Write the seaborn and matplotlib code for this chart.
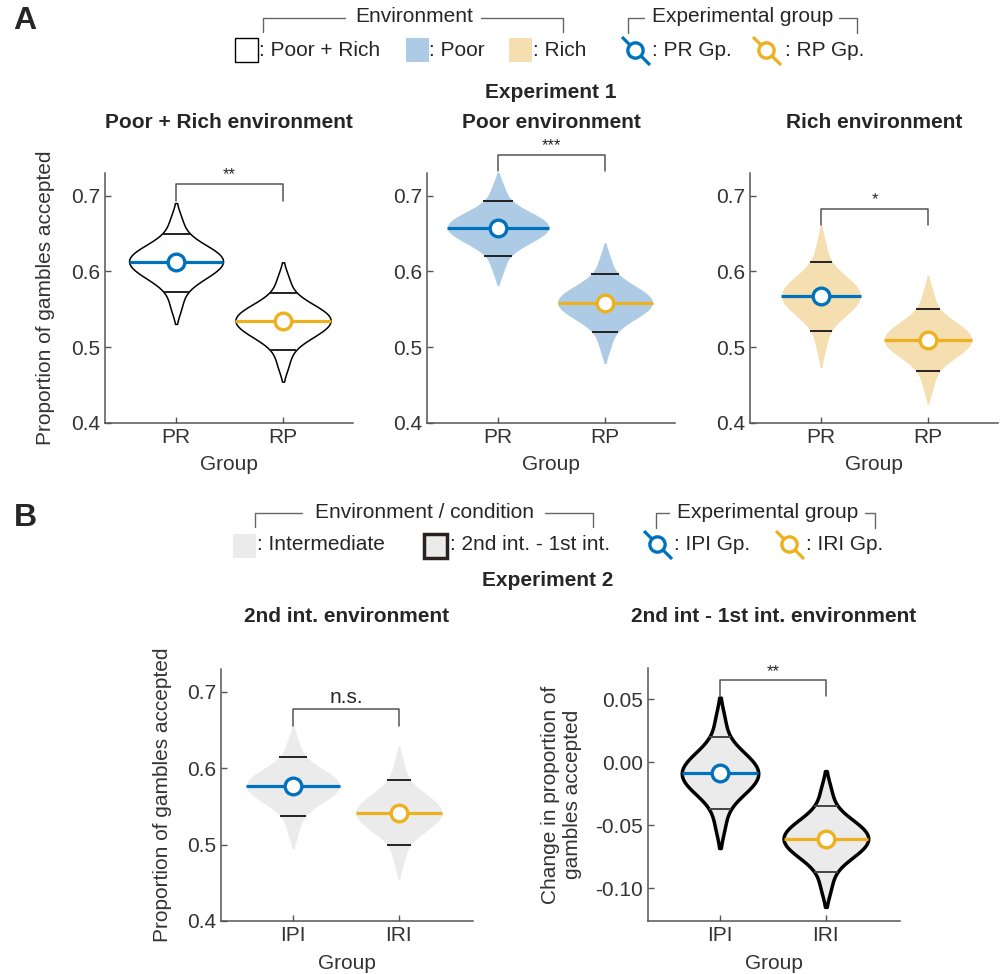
import numpy as np
import pandas as pd
import seaborn as sns
import matplotlib.pyplot as plt
from matplotlib.patches import Rectangle

# =========================================================
# Values (posterior mean + 95% interval)
# =========================================================

exp1_groups = ['PR', 'RP']
exp2_groups = ['IPI', 'IRI']

# Experiment 1, Poor + Rich environment
mix_mean = [0.613, 0.535]
mix_lo = [0.573, 0.496]
mix_hi = [0.650, 0.572]

# Experiment 1, Poor environment
poor_mean = [0.658, 0.559]
poor_lo = [0.621, 0.520]
poor_hi = [0.693, 0.597]

# Experiment 1, Rich environment
rich_mean = [0.568, 0.510]
rich_lo = [0.522, 0.469]
rich_hi = [0.613, 0.551]

# Experiment 2, 2nd intermediate environment
int2_mean = [0.577, 0.542]
int2_lo = [0.537, 0.500]
int2_hi = [0.615, 0.584]

# Experiment 2, 2nd int - 1st int difference
diff_mean = [-0.0087, -0.0606]
diff_lo = [-0.0373, -0.0868]
diff_hi = [0.0204, -0.0347]

sig_labels = ['**', '***', '*', 'n.s.', '**']

prop_ticks = [0.4, 0.5, 0.6, 0.7]
diff_ticks = [-0.10, -0.05, 0.00, 0.05]
diff_ticklabels = ['-0.10', '-0.05', '0.00', '0.05']

# standardised half-shape of the posterior (one side, heavy tailed)
z_shape = [0.03, 0.09, 0.16, 0.22, 0.29, 0.35, 0.42, 0.49, 0.56, 0.64, 0.71, 0.80,
           0.89, 0.98, 1.09, 1.21, 1.36, 1.53, 1.78, 2.24, 2.7, 3.2]

BLUE = '#0072BD'
YELLOW = '#EDB120'
group_colors = [BLUE, YELLOW]
POOR_FILL = '#aecbe5'
RICH_FILL = '#f5dfb0'
GREY_FILL = '#ebebeb'

# =========================================================
# Style
# =========================================================

sns.set_style('ticks')
plt.rcParams['font.family'] = ['Liberation Sans', 'DejaVu Sans']
plt.rcParams['font.size'] = 15

W, H = 1005, 974
fig = plt.figure(figsize=(W / 100, H / 100), dpi=100)


def px_axes(left, top, right, bottom):
    return fig.add_axes([left / W, 1 - bottom / H, (right - left) / W, (bottom - top) / H])


def make_samples(groups, mean, lo, hi):
    rows = []
    for g, m, l, h in zip(groups, mean, lo, hi):
        for z in z_shape:
            rows.append((g, m + z * (h - m) / 1.96))
            rows.append((g, m - z * (m - l) / 1.96))
    return pd.DataFrame(rows, columns=['group', 'value'])


def draw_panel(ax, groups, mean, lo, hi, fill, width, edge='black', edge_lw=0,
               hdi_color='#222222'):
    df = make_samples(groups, mean, lo, hi)
    n0 = len(ax.collections)
    sns.violinplot(data=df, x='group', y='value', order=groups, ax=ax, inner=None,
                   cut=1.4, density_norm='area', width=width, color=fill, saturation=1,
                   linewidth=edge_lw, linecolor=edge)
    polys = ax.collections[n0:]
    for i, poly in enumerate(polys):
        verts = poly.get_paths()[0].vertices
        right = verts[verts[:, 0] > i]
        idx = np.argsort(right[:, 1])
        ry, rx = right[idx, 1], right[idx, 0]

        def half(y):
            return np.interp(y, ry, rx) - i

        for y in (lo[i], hi[i]):
            h = half(y)
            ax.plot([i - h, i + h], [y, y], color=hdi_color, lw=1.4, zorder=3,
                    solid_capstyle='butt')
        h = half(mean[i])
        ax.plot([i - h, i + h], [mean[i], mean[i]], color=group_colors[i], lw=2.3,
                zorder=4, solid_capstyle='butt')
        ax.plot(i, mean[i], 'o', ms=12, mfc='white', mec=group_colors[i], mew=2.4,
                zorder=5)


def style_axes(ax, xlim, ylim, ylabel=None, ylabel_x=-0.2):
    ax.set_xlim(*xlim)
    ax.set_ylim(*ylim)
    for side in ['top', 'right']:
        ax.spines[side].set_visible(False)
    for side in ['left', 'bottom']:
        ax.spines[side].set_color('#555555')
        ax.spines[side].set_linewidth(1.1)
    ax.tick_params(direction='in', length=4, width=1, colors='#555555',
                   labelcolor='#333333', labelsize=15)
    ax.set_xlabel('Group', fontsize=15, color='#333333')
    ax.xaxis.set_label_coords(0.5, -0.13)
    if ylabel:
        ax.set_ylabel(ylabel, fontsize=15, color='#333333')
        ax.yaxis.set_label_coords(ylabel_x, 0.5)
    else:
        ax.set_ylabel('')


def bracket(ax, bar, leg, label, size=12):
    ax.plot([0, 0, 1, 1], [leg, bar, bar, leg], color='#555555', lw=1.1, clip_on=False)
    ax.annotate(label, xy=(0.5, bar), xytext=(0, 1), textcoords='offset points',
                ha='center', va='bottom', fontsize=size, annotation_clip=False)


# =========================================================
# Panel A: Experiment 1
# =========================================================

ax1 = px_axes(105, 173, 353, 423)
ax2 = px_axes(427, 173, 675, 423)
ax3 = px_axes(750, 173, 998, 423)
xlim_top = (-0.664, 1.654)

draw_panel(ax1, exp1_groups, mix_mean, mix_lo, mix_hi, 'white', 0.89,
           edge='black', edge_lw=1.1)
draw_panel(ax2, exp1_groups, poor_mean, poor_lo, poor_hi, POOR_FILL, 0.95)
draw_panel(ax3, exp1_groups, rich_mean, rich_lo, rich_hi, RICH_FILL, 0.82)

for ax in (ax1, ax2, ax3):
    ax.set_yticks(prop_ticks)
style_axes(ax1, xlim_top, (0.4, 0.73), 'Proportion of gambles accepted', -0.202)
style_axes(ax2, xlim_top, (0.4, 0.73))
style_axes(ax3, xlim_top, (0.4, 0.73))

bracket(ax1, 0.716, 0.693, sig_labels[0])
bracket(ax2, 0.754, 0.732, sig_labels[1])
bracket(ax3, 0.683, 0.662, sig_labels[2])

# =========================================================
# Panel B: Experiment 2
# =========================================================

ax4 = px_axes(221, 669, 473, 921)
ax5 = px_axes(648, 668, 900, 921)
xlim_bot = (-0.68, 1.70)

draw_panel(ax4, exp2_groups, int2_mean, int2_lo, int2_hi, GREY_FILL, 0.88)
draw_panel(ax5, exp2_groups, diff_mean, diff_lo, diff_hi, GREY_FILL, 0.80,
           edge='black', edge_lw=2.5, hdi_color='#444444')

ax4.set_yticks(prop_ticks)
style_axes(ax4, xlim_bot, (0.4, 0.73), 'Proportion of gambles accepted', -0.194)
ax5.set_yticks(diff_ticks)
ax5.set_yticklabels(diff_ticklabels)
style_axes(ax5, xlim_bot, (-0.126, 0.075),
           'Change in proportion of\ngambles accepted', -0.262)

bracket(ax4, 0.678, 0.655, sig_labels[3], size=15)
bracket(ax5, 0.0653, 0.0526, sig_labels[4])

# =========================================================
# Titles, panel letters and hand-made legends (pixel overlay)
# =========================================================

ov = fig.add_axes([0, 0, 1, 1])
ov.set_xlim(0, W)
ov.set_ylim(H, 0)
ov.axis('off')

ov.text(25, 21, 'A', fontsize=23, fontweight='bold', ha='center', va='center')
ov.text(25, 518, 'B', fontsize=23, fontweight='bold', ha='center', va='center')

ov.text(551, 93, 'Experiment 1', fontsize=15, fontweight='bold', ha='center', va='center')
ov.text(229, 122, 'Poor + Rich environment', fontsize=15, fontweight='bold',
        ha='center', va='center')
ov.text(551, 122, 'Poor environment', fontsize=15, fontweight='bold',
        ha='center', va='center')
ov.text(874, 122, 'Rich environment', fontsize=15, fontweight='bold',
        ha='center', va='center')

ov.text(548, 580, 'Experiment 2', fontsize=15, fontweight='bold', ha='center', va='center')
ov.text(347, 617, '2nd int. environment', fontsize=15, fontweight='bold',
        ha='center', va='center')
ov.text(774, 617, '2nd int - 1st int. environment', fontsize=15, fontweight='bold',
        ha='center', va='center')


def header(x0, x1, xt0, xt1, y, y_end, label):
    kw = dict(color='#666666', lw=1)
    ov.plot([x0, x0, xt0], [y_end, y, y], **kw)
    ov.plot([xt1, x1, x1], [y, y, y_end], **kw)
    ov.text((xt0 + xt1) / 2 + 1, y - 1, label, fontsize=15, ha='center', va='center')


def swatch(x, y, fill, edge=None, lw=0):
    ov.add_patch(Rectangle((x, y), 23, 24, facecolor=fill,
                           edgecolor=edge if edge else fill, lw=lw))


def group_marker(cx, cy, color):
    ov.plot([cx - 14, cx + 14], [cy - 14, cy + 14], color=color, lw=2.3,
            solid_capstyle='butt')
    ov.plot(cx - 1, cy - 1, 'o', ms=11, mfc='white', mec=color, mew=2.4)


def item(x, y, text):
    ov.text(x, y, text, fontsize=15, ha='left', va='center')


# legend A
header(263, 563, 345, 481, 18, 32, 'Environment')
header(628, 857, 644, 839, 18, 33, 'Experimental group')
swatch(235, 38, 'white', 'black', 1.0)
item(259, 50, ': Poor + Rich')
swatch(406, 38, POOR_FILL)
item(429, 50, ': Poor')
swatch(509, 38, RICH_FILL)
item(533, 50, ': Rich')
group_marker(636, 51, BLUE)
item(652, 50, ': PR Gp.')
group_marker(767, 51, YELLOW)
item(785, 50, ': RP Gp.')

# legend B
header(255, 593, 302, 545, 513, 527, 'Environment / condition')
header(656, 875, 669, 865, 513, 528, 'Experimental group')
swatch(233, 534, GREY_FILL)
item(257, 545, ': Intermediate')
swatch(424, 534, GREY_FILL, '#2a2020', 2.5)
item(450, 545, ': 2nd int. - 1st int.')
group_marker(658, 545, BLUE)
item(674, 545, ': IPI Gp.')
group_marker(790, 545, YELLOW)
item(806, 545, ': IRI Gp.')

fig.savefig('out.png', dpi=100)
